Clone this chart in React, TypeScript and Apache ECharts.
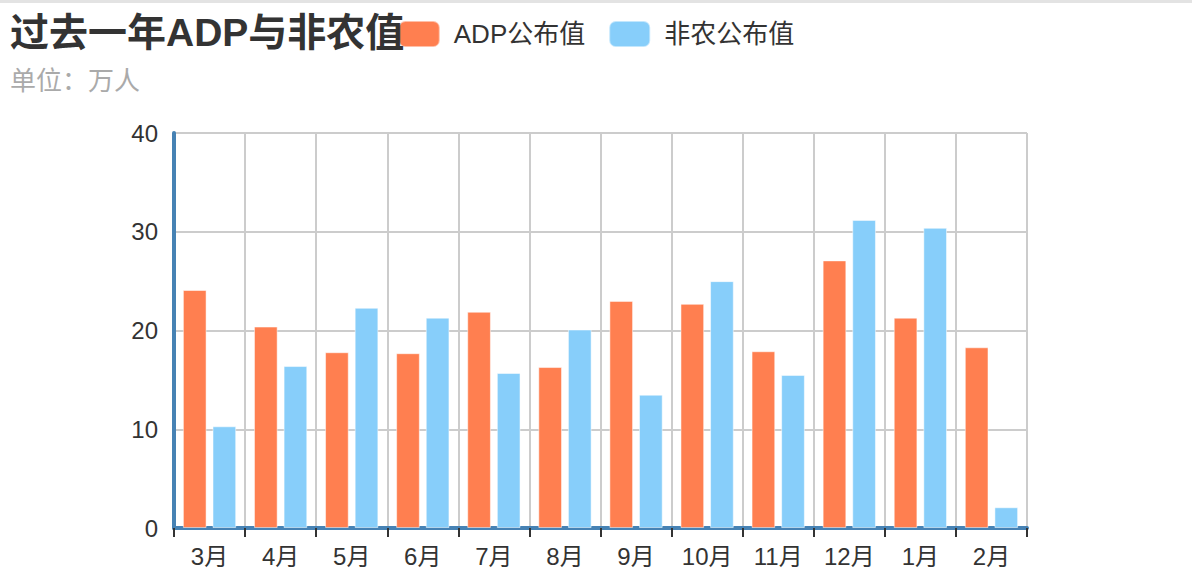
import React, { useEffect, useRef } from "react";
import * as echarts from "echarts";

const categories = ["3月", "4月", "5月", "6月", "7月", "8月", "9月", "10月", "11月", "12月", "1月", "2月"];
const adpValues = [24.1, 20.4, 17.8, 17.7, 21.9, 16.3, 23.0, 22.7, 17.9, 27.1, 21.3, 18.3];
const nonfarmValues = [10.3, 16.4, 22.3, 21.3, 15.7, 20.1, 13.5, 25.0, 15.5, 31.2, 30.4, 2.1];
const seriesNames = ["ADP公布值", "非农公布值"];
const titleText = "过去一年ADP与非农值";
const subtitleText = "单位：万人";

const FONT = "Arial, 'Liberation Sans', 'Noto Sans CJK SC', sans-serif";

export default function App() {
  const ref = useRef<HTMLDivElement>(null);
  useEffect(() => {
    if (!ref.current) return;
    const chart = echarts.init(ref.current, undefined, { renderer: "svg" });
    chart.setOption({
      animation: false,
      textStyle: { fontFamily: FONT },
      graphic: [
        { type: "rect", left: 0, top: 0, shape: { width: 1192, height: 3 }, style: { fill: "#e3e3e3" }, silent: true },
      ],
      title: {
        text: titleText,
        subtext: subtitleText,
        left: 5,
        top: 8,
        itemGap: 16,
        textStyle: { fontSize: 39, fontWeight: "bold", color: "#333", fontFamily: FONT },
        subtextStyle: { fontSize: 26, color: "#aaa", fontFamily: FONT },
      },
      legend: {
        data: seriesNames,
        left: "center",
        top: 15,
        itemWidth: 41,
        itemHeight: 26,
        itemGap: 23,
        icon: "roundRect",
        textStyle: { fontSize: 26, color: "#333", fontFamily: FONT, padding: [0, 0, 0, 9] },
      },
      grid: { left: 174, right: 165, top: 133, bottom: 49 },
      xAxis: {
        type: "category",
        data: categories,
        axisLine: { lineStyle: { color: "#4682b4", width: 4 } },
        axisTick: { show: true, length: 9, lineStyle: { color: "#333", width: 2 } },
        axisLabel: { fontSize: 24, color: "#333", margin: 16, fontFamily: FONT },
        splitLine: { show: true, lineStyle: { color: "#ccc", width: 2 } },
      },
      yAxis: {
        type: "value",
        min: 0,
        max: 40,
        interval: 10,
        axisLine: { show: true, lineStyle: { color: "#4682b4", width: 4 } },
        axisTick: { show: false },
        axisLabel: { fontSize: 24, color: "#333", margin: 16, fontFamily: FONT },
        splitLine: { show: true, lineStyle: { color: "#ccc", width: 2 } },
      },
      series: [
        {
          name: seriesNames[0],
          type: "bar",
          data: adpValues,
          barGap: "25%",
          barCategoryGap: "25%",
          itemStyle: { color: "#ff7f50", borderColor: "rgba(255,255,255,0.5)", borderWidth: 1 },
        },
        {
          name: seriesNames[1],
          type: "bar",
          data: nonfarmValues,
          barGap: "25%",
          barCategoryGap: "25%",
          itemStyle: { color: "#87cefa", borderColor: "rgba(255,255,255,0.5)", borderWidth: 1 },
        },
      ],
    });
    return () => chart.dispose();
  }, []);
  return (
    <div
      ref={ref}
      style={{ position: "absolute", left: 0, top: 0, width: 1192, height: 577 }}
    />
  );
}
